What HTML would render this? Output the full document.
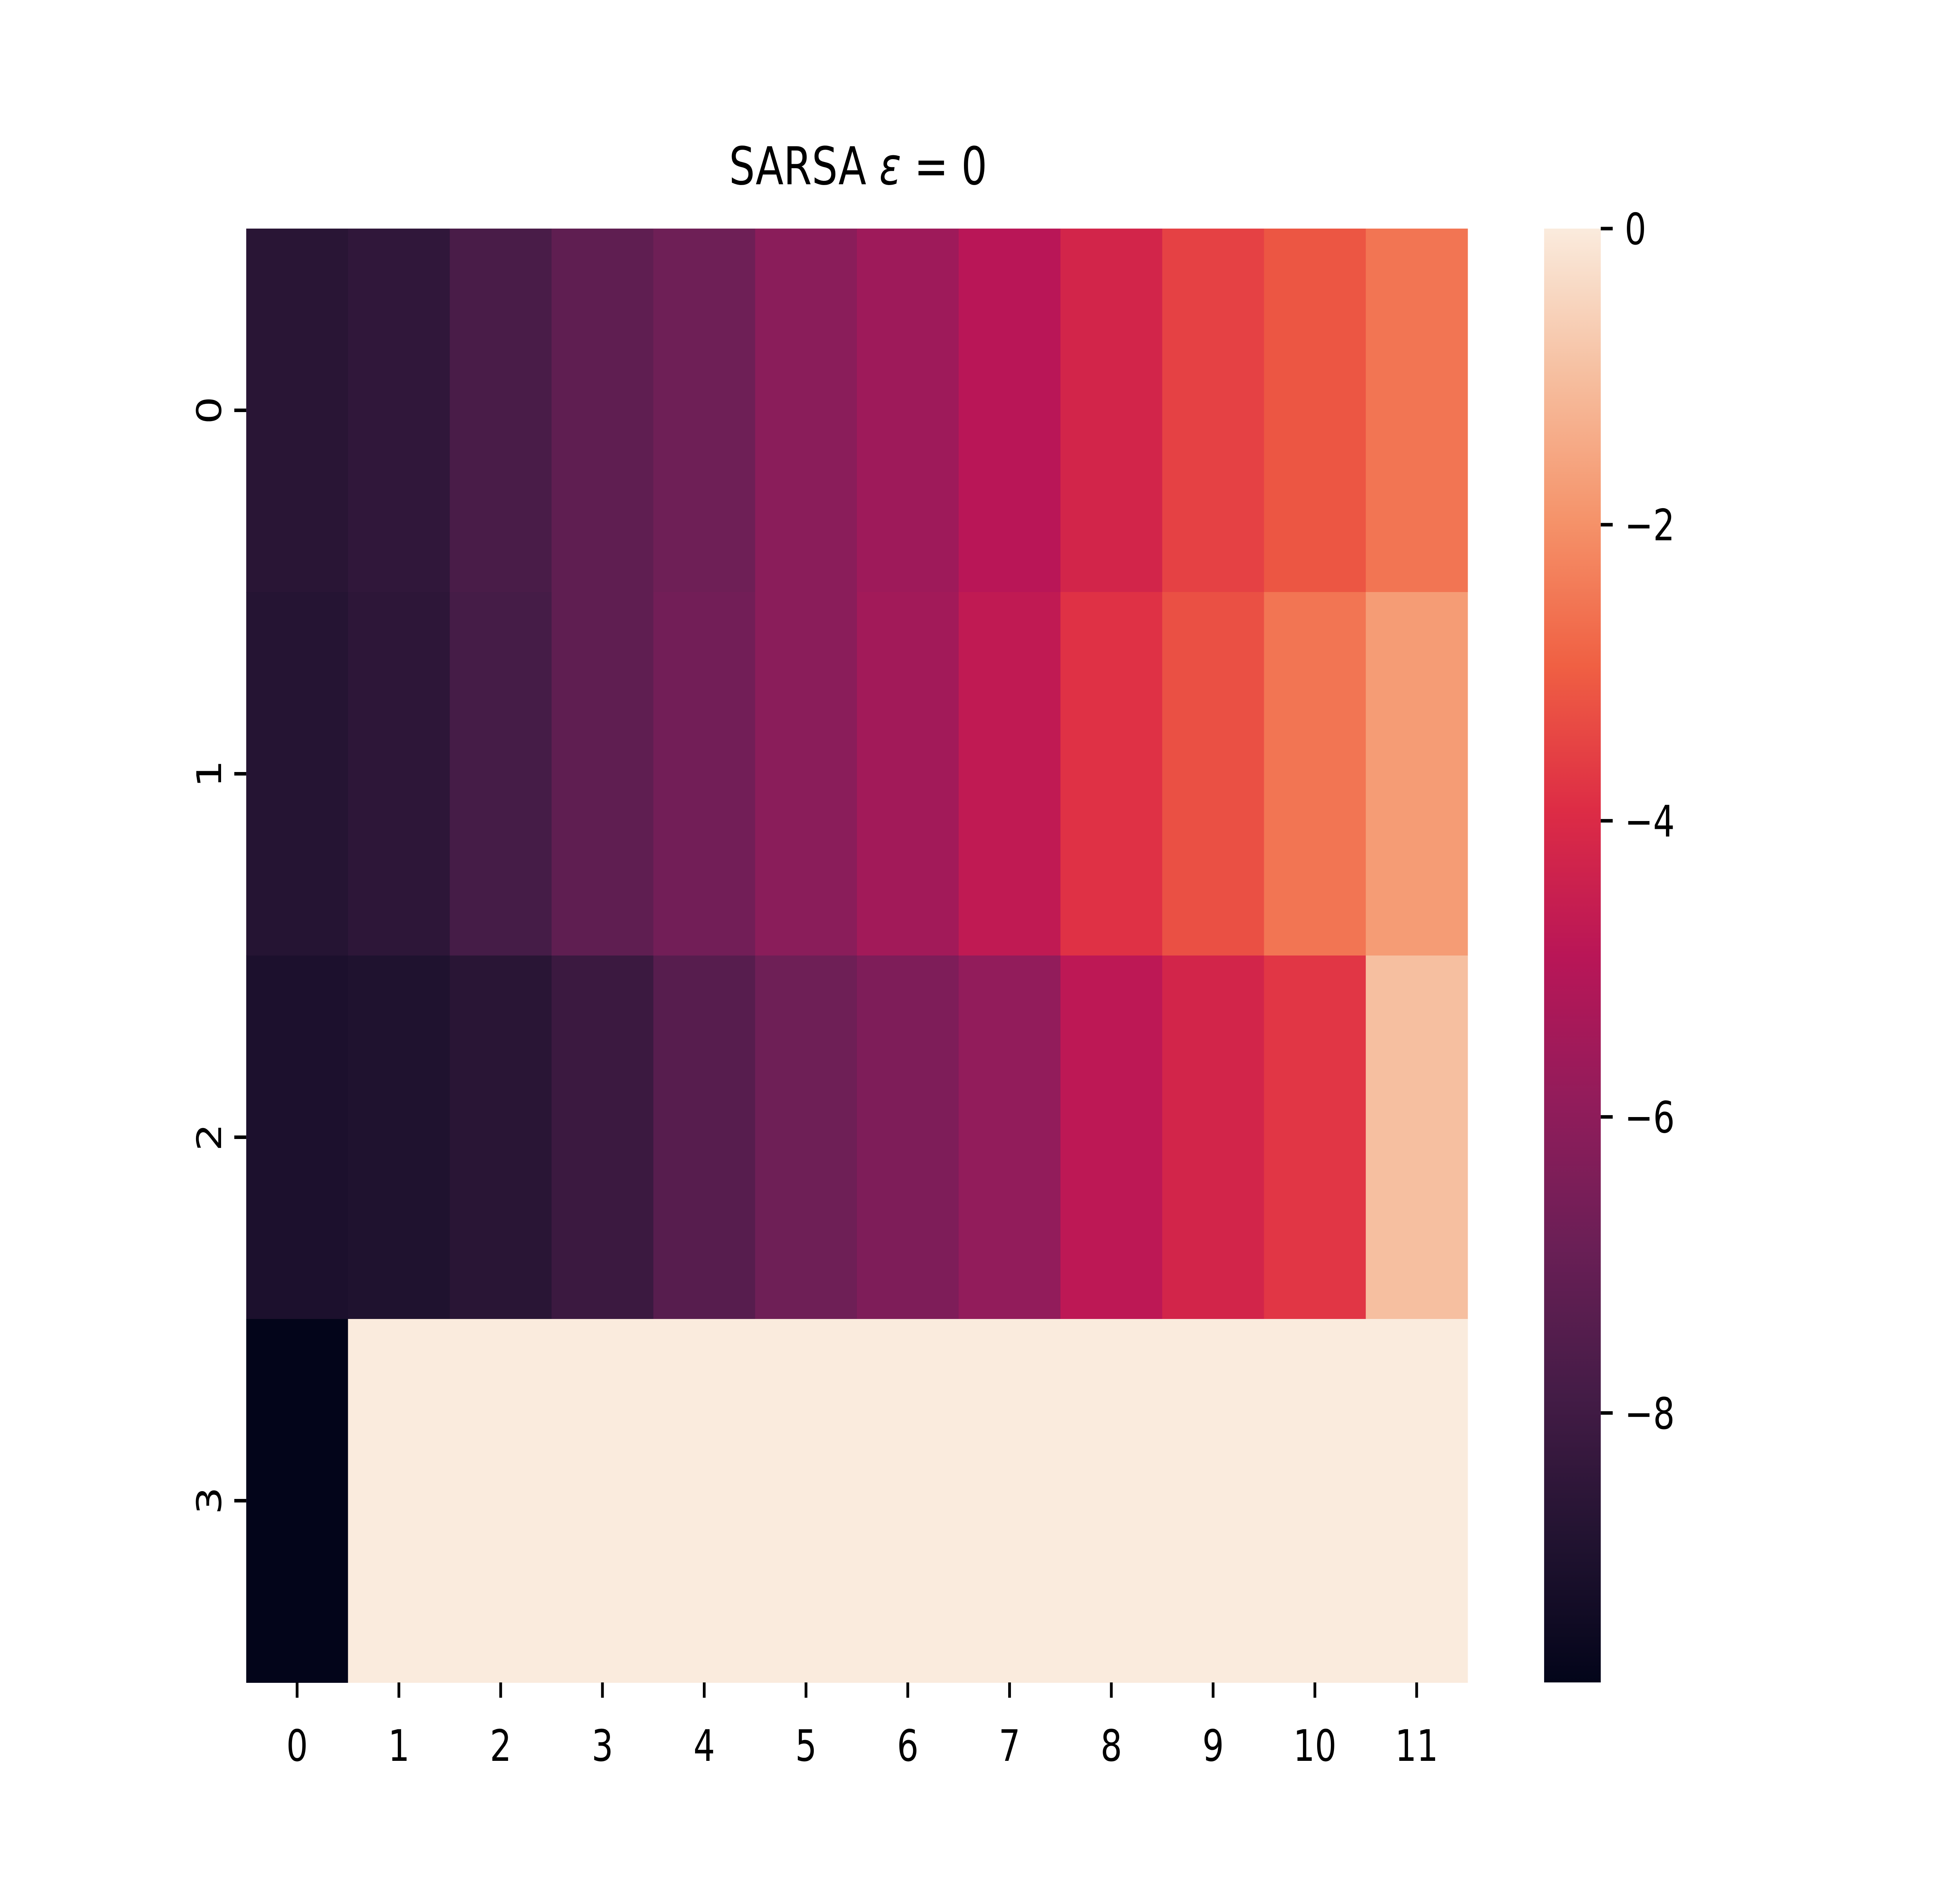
<!DOCTYPE html>
<html><head><meta charset="utf-8"><style>
html,body{margin:0;padding:0;background:#fff;width:100%;height:100%;overflow:hidden;}
svg{display:block;position:fixed;left:0;top:0;width:100vw;height:100vh;font-family:"DejaVu Sans","Liberation Sans",sans-serif;}
</style></head><body>
<svg id="chart" viewBox="0 0 6400 4800" preserveAspectRatio="none" xmlns="http://www.w3.org/2000/svg">
<text x="2802" y="470" font-size="133" text-anchor="middle">SARSA <tspan font-style="italic">ε</tspan> = 0</text>
<defs><linearGradient id="rocket" x1="0" y1="1" x2="0" y2="0">
<stop offset="0" stop-color="#03051A"/><stop offset="0.1" stop-color="#221331"/><stop offset="0.2" stop-color="#451C47"/><stop offset="0.3" stop-color="#6A1F56"/><stop offset="0.4" stop-color="#921C5B"/><stop offset="0.5" stop-color="#B91657"/><stop offset="0.6" stop-color="#DD2C45"/><stop offset="0.7" stop-color="#F06043"/><stop offset="0.8" stop-color="#F5936A"/><stop offset="0.9" stop-color="#F6BFA0"/><stop offset="1" stop-color="#FAEBDD"/>
</linearGradient></defs>
<g id="cells"></g><g id="axes"></g>
</svg>
<script>
const rows = [0,1,2,3];
const cols = [0,1,2,3,4,5,6,7,8,9,10,11];
const row0 = [-8.64,-8.45,-7.76,-7.17,-6.78,-6.09,-5.6,-4.91,-4.22,-3.53,-3.14,-2.55];
const row1 = [-8.74,-8.54,-7.86,-7.17,-6.68,-6.09,-5.5,-4.71,-3.83,-3.24,-2.55,-1.77];
const row2 = [-9.03,-8.94,-8.64,-8.15,-7.37,-6.78,-6.38,-5.89,-4.81,-4.22,-3.73,-0.98];
const row3 = [-9.82,0,0,0,0,0,0,0,0,0,0,0];
const cbTicks = [0,-2,-4,-6,-8];
const values = [row0,row1,row2,row3];
const vmin = -9.82, vmax = 0;
const L=804,R=4792,T=583,B=4291, CBL=5042,CBR=5227;
const NS="http://www.w3.org/2000/svg";
const stops=[[3,5,26],[34,19,49],[69,28,71],[106,31,86],[146,28,91],[185,22,87],[221,44,69],[240,96,67],[245,147,106],[246,191,160],[250,235,221]];
function color(v){let t=(v-vmin)/(vmax-vmin);t=Math.max(0,Math.min(1,t))*10;const i=Math.min(9,Math.floor(t)),f=t-i;const a=stops[i],b=stops[i+1];return `rgb(${a.map((c,k)=>Math.round(c+(b[k]-c)*f)).join(',')})`;}
const cw=(R-L)/cols.length, ch=(B-T)/rows.length;
const xs=c=>L+c*cw, ys=r=>T+r*ch, cy=v=>B-(v-vmin)/(vmax-vmin)*(B-T);
function mk(tag,attrs,parent){const e=document.createElementNS(NS,tag);for(const k in attrs)e.setAttribute(k,attrs[k]);parent.appendChild(e);return e;}
const cg=document.getElementById('cells'), ag=document.getElementById('axes');
rows.forEach((r,ri)=>cols.forEach((c,ci)=>{
  const e=mk('rect',{x:xs(ci),y:ys(ri),width:cw+1,height:ch+1,fill:color(values[ri][ci])},cg);
  
  
}));
cols.forEach((c,ci)=>{
  const x=xs(ci)+cw/2;
  const l=mk('line',{x1:x,x2:x,y1:B,y2:B+39,stroke:'#000','stroke-width':9},ag);
  
  
  const t=mk('text',{x:x,y:B+200,'font-size':111,'text-anchor':'middle'},ag);t.textContent=c;
  
  
});
rows.forEach((r,ri)=>{
  const y=ys(ri)+ch/2;
  const l=mk('line',{x1:L-39,x2:L,y1:y,y2:y,stroke:'#000','stroke-width':9},ag);
  
  
  const t=mk('text',{x:0,y:0,'font-size':111,'text-anchor':'middle',transform:`translate(${L-82},${y}) rotate(-90)`},ag);t.textContent=r;
  
  
});
const cb=mk('rect',{x:CBL,y:T,width:CBR-CBL,height:B-T,fill:'url(#rocket)'},ag);


cbTicks.forEach(v=>{
  const y=cy(v);
  const l=mk('line',{x1:CBR,x2:CBR+39,y1:y,y2:y,stroke:'#000','stroke-width':9},ag);
  
  
  const t=mk('text',{x:CBR+78,y:y+40,'font-size':111},ag);t.textContent=v===0?'0':'−'+Math.abs(v);
  
  
});
</script>
</body></html>
